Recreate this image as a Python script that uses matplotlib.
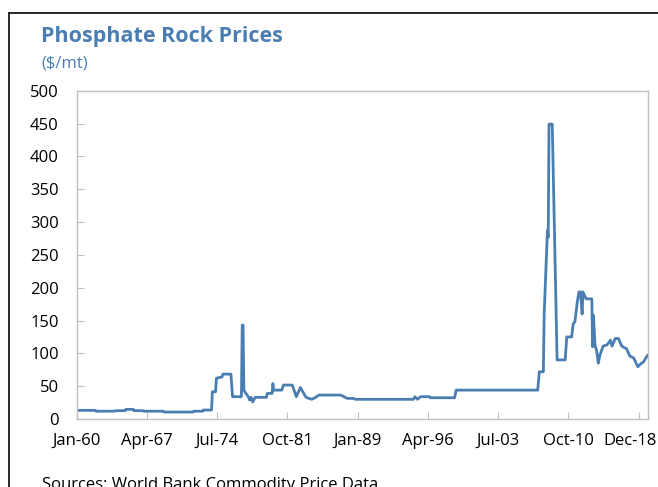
import matplotlib
matplotlib.use("Agg")
import matplotlib.pyplot as plt
import matplotlib.transforms as mtrans
from matplotlib.lines import Line2D

plt.rcParams['font.family'] = ['Open Sans', 'DejaVu Sans']

# months counted from Jan-1960, price in $/mt
months = [0, 23, 24, 47, 48, 60, 61, 70, 71, 82, 83, 107, 108, 144, 145, 156,
          157, 167, 168, 172, 173, 176, 180, 181, 191, 193, 204, 205, 206, 207,
          209, 211, 213, 214, 216, 218, 221, 235, 236, 242, 243, 244, 254, 256,
          267, 272, 277, 284, 291, 296, 300, 327, 331, 335, 343, 345, 417, 419,
          422, 426, 437, 438, 468, 470, 571, 573, 578, 579, 580, 583, 584, 585,
          589, 595, 605, 607, 613, 615, 617, 620, 622, 624, 626, 627, 631, 638,
          639, 640, 642, 644, 646, 648, 652, 657, 661, 663, 667, 671, 675, 681,
          685, 690, 695, 698, 702, 707]
prices = [13.2, 13.2, 11.9, 11.9, 12.7, 12.7, 14.7, 14.7, 12.7, 12.7, 11.9, 11.9,
          10.6, 10.6, 11.9, 11.9, 13.7, 13.7, 41.5, 41.5, 62, 63, 64, 68.4, 68.4,
          34, 34, 143, 143, 44, 40, 36.5, 33, 29, 33, 26, 33, 33, 39, 39, 54, 44,
          44, 51.7, 51.7, 34, 48, 33, 30, 33, 36.5, 36.5, 34, 31.4, 31.4, 30, 30,
          34, 30, 34, 34, 32.4, 32.4, 44, 44, 72, 72, 161, 191, 287, 277, 449,
          449, 90, 90, 125, 125, 145, 148, 178, 193.5, 193.5, 160, 193.5, 183,
          183, 110, 158, 112, 104, 85, 97, 111, 113, 120, 111, 122.6, 122.6, 111,
          107, 96, 92.7, 79.5, 83.5, 87, 97]

tick_pos = [0, 87, 174, 261, 348, 435, 522, 609, 696]
tick_labels = ['Jan-60', 'Apr-67', 'Jul-74', 'Oct-81', 'Jan-89', 'Apr-96',
               'Jul-03', 'Oct-10', 'Dec-18']

blue = '#4a7eb3'
grey = '#bfbfbf'

fig = plt.figure(figsize=(6.58, 4.87), dpi=100)
ax = fig.add_axes([0.1166, 0.1396, 0.8687, 0.6742])

ax.plot(months, prices, color=blue, linewidth=2.0, solid_joinstyle='round')

ax.set_xlim(0, 708)
ax.set_ylim(0, 500)
ax.set_yticks(range(0, 501, 50))
ax.set_xticks(tick_pos)
ax.set_xticklabels(tick_labels)

for s in ax.spines.values():
    s.set_color(grey)
    s.set_linewidth(1.0)
ax.tick_params(axis='both', direction='in', length=5, color=grey,
               labelsize=12, labelcolor='black')
ax.tick_params(axis='y', pad=13)
ax.tick_params(axis='x', pad=10)

# last date label pulled left so it stays inside the frame
last = ax.get_xticklabels()[-1]
last.set_transform(last.get_transform() +
                   mtrans.ScaledTranslation(-9 / 100, 0, fig.dpi_scale_trans))

# titles
fig.text(41 / 658, 1 - 42 / 487, 'Phosphate Rock Prices', color=blue,
         fontsize=15.5, fontweight='bold', va='baseline')
fig.text(41 / 658, 1 - 67 / 487, '($/mt)', color=blue, fontsize=12,
         va='baseline')
fig.text(42 / 658, -2 / 487, 'Sources: World Bank Commodity Price Data.',
         fontsize=12, va='baseline')

# outer frame, top and left edges
fig.add_artist(Line2D([9 / 658, 1], [1 - 12.5 / 487] * 2, color='#1a1a1a',
                      linewidth=1.3, transform=fig.transFigure))
fig.add_artist(Line2D([9 / 658] * 2, [0, 1 - 12.5 / 487], color='#1a1a1a',
                      linewidth=1.3, transform=fig.transFigure))

fig.savefig('out.png', dpi=100)
